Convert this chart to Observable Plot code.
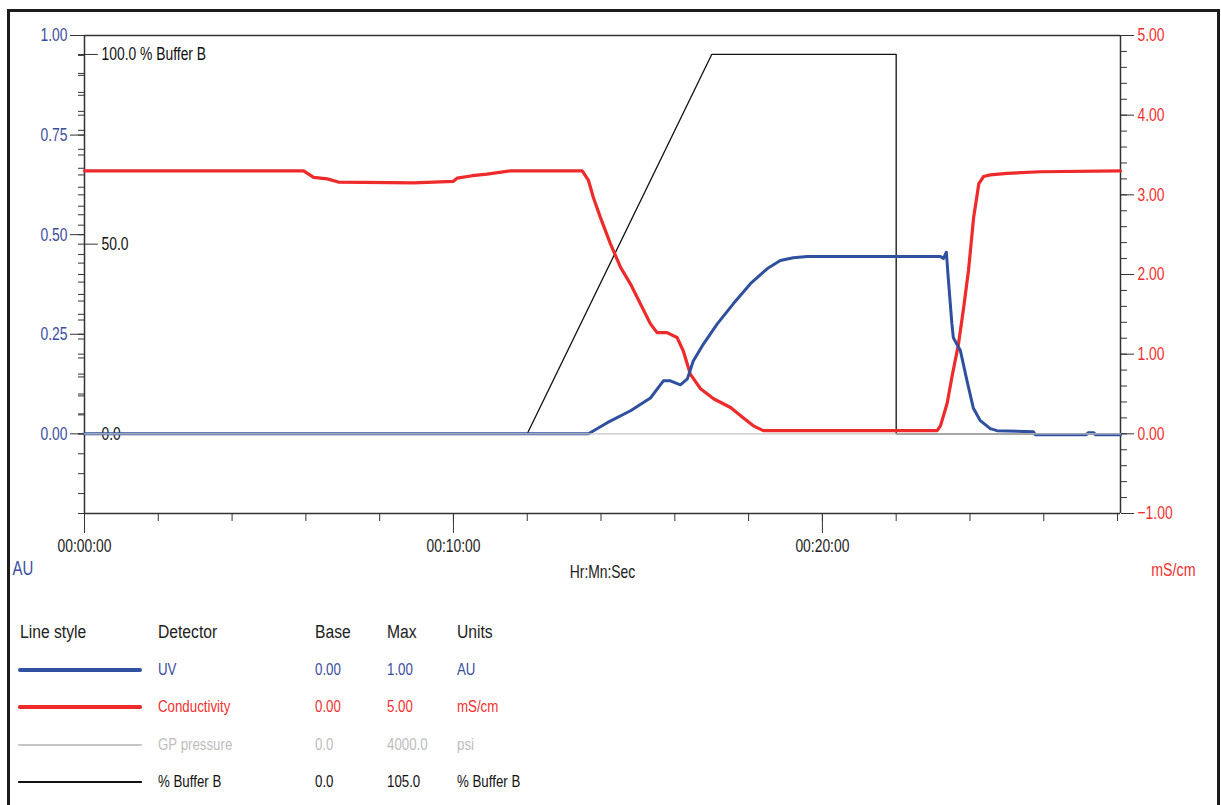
<!DOCTYPE html>
<html><head><meta charset="utf-8">
<script src="https://cdn.jsdelivr.net/npm/d3@7"></script>
<script src="https://cdn.jsdelivr.net/npm/@observablehq/plot@0.6"></script>
<style>
body{margin:0;background:#fff;width:1221px;height:805px;overflow:hidden;position:relative;font-family:"Liberation Sans",Arial,sans-serif;}
#frame{position:absolute;left:7px;top:9px;width:1207px;height:800px;border:3px solid #1c1c1c;border-bottom:none;box-sizing:content-box;}
#chart{position:absolute;left:0;top:0;}
.lg{position:absolute;white-space:nowrap;transform-origin:0 50%;line-height:20px;height:20px;}
.ln{position:absolute;}
</style></head><body>
<div id="frame"></div>
<div id="chart"></div>
<div id="legend"></div>
<script>
// ---------- data (time in minutes) ----------
const uvTime = [0,13.66,14.17,14.80,15.34,15.69,15.88,16.15,16.34,16.50,16.78,17.15,17.59,18.05,18.51,18.86,19.21,19.59,23.20,23.28,23.36,23.41,23.51,23.55,23.74,23.92,24.09,24.28,24.55,24.73,25.72,25.77,27.15,27.21,27.35,27.40,28.08];
const uvAU   = [0,0,0.028,0.058,0.090,0.133,0.133,0.123,0.138,0.183,0.226,0.276,0.327,0.377,0.415,0.435,0.442,0.445,0.445,0.440,0.456,0.393,0.276,0.241,0.209,0.133,0.065,0.033,0.013,0.008,0.005,-0.002,-0.002,0.003,0.003,-0.002,-0.002];

const condTime = [0,5.94,6.21,6.58,6.88,8.92,10.00,10.10,10.51,10.91,11.54,13.49,13.66,13.79,13.98,14.25,14.53,14.80,15.07,15.34,15.52,15.79,16.06,16.23,16.42,16.69,17.05,17.51,17.86,18.13,18.40,23.11,23.20,23.38,23.51,23.69,23.83,23.96,24.10,24.24,24.37,24.55,25.00,25.91,28.08];
const condMS   = [3.30,3.30,3.22,3.20,3.16,3.15,3.17,3.21,3.24,3.26,3.30,3.30,3.18,2.97,2.72,2.39,2.09,1.88,1.63,1.38,1.27,1.27,1.21,1.04,0.75,0.57,0.44,0.33,0.20,0.10,0.04,0.04,0.10,0.38,0.71,1.13,1.59,2.05,2.72,3.14,3.23,3.25,3.27,3.29,3.30];

const bufTime = [0,12.0,17.0,22.0,22.0,28.08];
const bufPct  = [0,0,100,100,0,0];

const gpTime = [0,28.08];
const gpPsi  = [0,0];

// axis ranges / tick labels
const xMax = 28.08;
const xMajorTicks = [0,10,20];
const xMajorLabels = ["00:00:00","00:10:00","00:20:00"];
const auMajorTicks = [0,0.25,0.5,0.75,1.0];
const condMajorTicks = [-1,0,1,2,3,4,5];
const bufLabelTicks = [0,50,100];
const bufLabelText = ["0.0","50.0","100.0 % Buffer B"];

// legend table
const legendHeaders = ["Line style","Detector","Base","Max","Units"];
const legendDetectors = ["UV","Conductivity","GP pressure","% Buffer B"];
const legendBase = ["0.00","0.00","0.0","0.0"];
const legendMax = ["1.00","5.00","4000.0","105.0"];
const legendUnits = ["AU","mS/cm","psi","% Buffer B"];

// ---------- styling ----------
const blue = "#2f4f9f", blueText = "#3a4ea0", red = "#ee2a2a", redText = "#f0302f", gray = "#c6c6c6", ink = "#333";
const condMax = 5, bufMax = 105, gpMax = 4000;

const uv = uvTime.map((t,i)=>({t, v: uvAU[i]}));
const cond = condTime.map((t,i)=>({t, v: condMS[i]/condMax}));
const buf = bufTime.map((t,i)=>({t, v: bufPct[i]/bufMax}));
const gp = gpTime.map((t,i)=>({t, v: gpPsi[i]/gpMax}));

const blank = () => "";
const tickShape = {draw(ctx, l){ ctx.moveTo(0,0); ctx.lineTo(0,-l); }};

const plot = Plot.plot({
  width: 1221, height: 590,
  marginLeft: 84, marginRight: 101, marginTop: 35, marginBottom: 77,
  style: {fontFamily: '"Liberation Sans",Arial,sans-serif', fontSize: "18.5px", background: "transparent", overflow: "visible"},
  x: {domain: [0, xMax]},
  y: {domain: [-0.2, 1.0]},
  marks: [
    Plot.ruleY([-0.2, 1.0], {stroke: ink, strokeWidth: 1.6}),
    Plot.ruleX([0, xMax], {stroke: ink, strokeWidth: 1.5}),
    // x axis
    Plot.axisX(d3.range(0, xMax, 2), {tickSize: 8, tickFormat: blank, stroke: ink, label: null}),
    Plot.axisX(xMajorTicks, {tickSize: 20, tickPadding: 5, tickFormat: (d,i) => xMajorLabels[i], stroke: ink, fill: "#222", label: null}),
    // left AU axis
    Plot.axisY(d3.range(-4, 21).map(i => i*0.05), {anchor: "left", tickSize: 6, tickFormat: blank, stroke: ink, label: null}),
    Plot.axisY(d3.range(0, 21).map(i => i*5/bufMax), {anchor: "left", tickSize: 6, tickFormat: blank, stroke: ink, label: null}),
    Plot.axisY(auMajorTicks, {anchor: "left", tickSize: 14, tickPadding: 3, tickFormat: d3.format(".2f"), stroke: ink, fill: blueText, label: null}),
    // % buffer B ticks and labels inside the left axis
    Plot.vector(bufLabelTicks, {y: d => d/bufMax, frameAnchor: "left", length: 13, rotate: 90, anchor: "start", shape: tickShape, stroke: ink, strokeWidth: 1}),
    Plot.text(bufLabelTicks, {y: d => d/bufMax, text: (d,i) => bufLabelText[i], frameAnchor: "left", dx: 17, textAnchor: "start", fill: "#111"}),
    // right conductivity axis
    Plot.axisY(d3.range(-5, 26).map(i => i*0.2/condMax), {anchor: "right", tickSize: 6, tickFormat: blank, stroke: ink, label: null}),
    Plot.axisY(condMajorTicks.map(d => d/condMax), {anchor: "right", tickSize: 13, tickPadding: 4, tickFormat: d => d3.format(".2f")(d*condMax), stroke: ink, fill: redText, label: null}),
    // axis unit labels
    Plot.text(["AU"], {frameAnchor: "bottom-left", textAnchor: "start", dx: -72, dy: 61, fill: blueText, fontSize: 20}),
    Plot.text(["Hr:Mn:Sec"], {frameAnchor: "bottom", dy: 64, fill: "#222"}),
    Plot.text(["mS/cm"], {frameAnchor: "bottom-right", textAnchor: "end", dx: 75, dy: 62, fill: redText, fontSize: 19}),
    // traces
    Plot.line(buf, {x: "t", y: "v", stroke: "#111", strokeWidth: 1.3}),
    Plot.line(cond, {x: "t", y: "v", stroke: red, strokeWidth: 3.2}),
    Plot.line(uv, {x: "t", y: "v", stroke: blue, strokeWidth: 3}),
    Plot.line(gp, {x: "t", y: "v", stroke: gray, strokeWidth: 1.2})
  ]
});

document.getElementById("chart").appendChild(plot);

// horizontally condensed text, like the original: scale each label about its anchor point
plot.querySelectorAll("text").forEach(el => {
  if (!el.textContent) return;
  const b = el.getBBox();
  const anchor = getComputedStyle(el).textAnchor;
  const ax = anchor === "end" ? b.x + b.width : anchor === "middle" ? b.x + b.width/2 : b.x;
  const tr = el.getAttribute("transform") || "";
  el.setAttribute("transform", `${tr} translate(${ax},0) scale(0.75,1) translate(${-ax},0)`.trim());
});

// ---------- legend table ----------
const lg = document.getElementById("legend");
const colX = [20, 158, 315, 387, 457];
const headerY = 632, rowY = [670, 707, 745, 782];
const rowColor = [blueText, redText, "#bdbdbd", "#111"];
const lineColor = [blue, red, gray, "#111"];
const lineW = [4.5, 3.5, 1.5, 1.5];
function addText(txt, x, y, size, color, sx){
  const d = document.createElement("div");
  d.className = "lg";
  d.textContent = txt;
  d.style.left = x + "px"; d.style.top = (y - 10) + "px";
  d.style.fontSize = size + "px"; d.style.color = color;
  d.style.transform = `scaleX(${sx})`;
  lg.appendChild(d);
}
legendHeaders.forEach((h,i) => addText(h, colX[i], headerY, 18, "#222", 0.87));
legendDetectors.forEach((name,i) => {
  const l = document.createElement("div");
  l.className = "ln";
  l.style.left = "18px"; l.style.width = "124px";
  l.style.top = (rowY[i] - lineW[i]/2) + "px"; l.style.height = lineW[i] + "px";
  l.style.background = lineColor[i]; l.style.borderRadius = (lineW[i]/2) + "px";
  lg.appendChild(l);
  [name, legendBase[i], legendMax[i], legendUnits[i]].forEach((t,j) => addText(t, colX[j+1], rowY[i], 16, rowColor[i], 0.83));
});
</script>
</body></html>
